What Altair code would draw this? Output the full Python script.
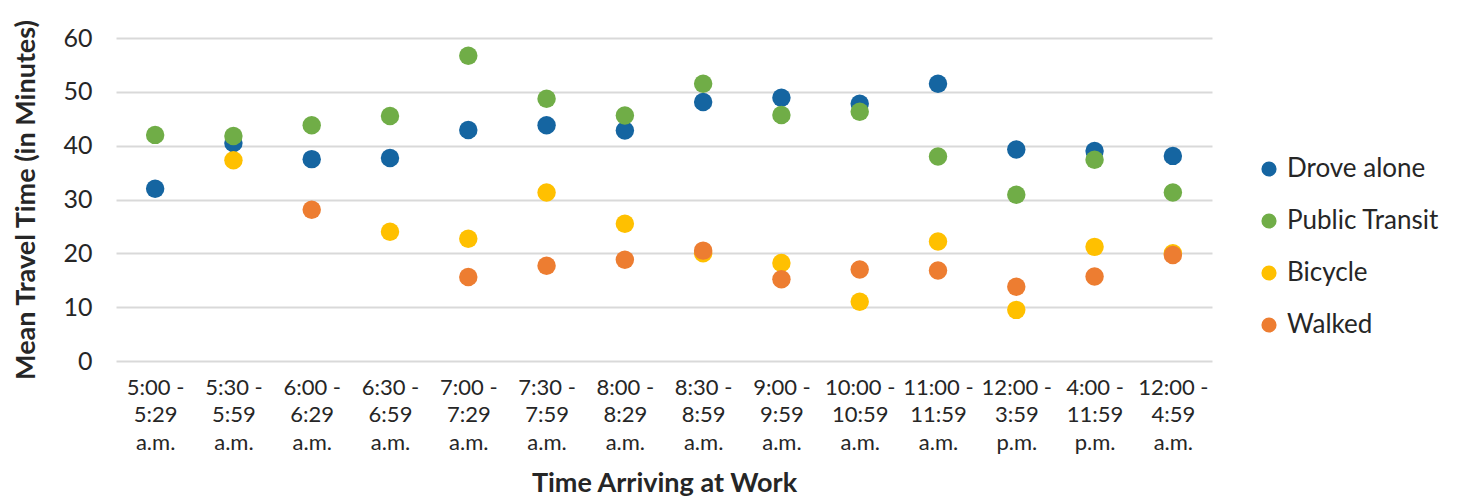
import altair as alt
import pandas as pd

categories = [
    "5:00 -\n5:29\na.m.", "5:30 -\n5:59\na.m.", "6:00 -\n6:29\na.m.", "6:30 -\n6:59\na.m.",
    "7:00 -\n7:29\na.m.", "7:30 -\n7:59\na.m.", "8:00 -\n8:29\na.m.", "8:30 -\n8:59\na.m.",
    "9:00 -\n9:59\na.m.", "10:00 -\n10:59\na.m.", "11:00 -\n11:59\na.m.", "12:00 -\n3:59\np.m.",
    "4:00 -\n11:59\np.m.", "12:00 -\n4:59\na.m.",
]
series = ["Drove alone", "Public Transit", "Bicycle", "Walked"]
colors = ["#1565A1", "#70AD47", "#FFC000", "#ED7D31"]

drove_alone = [32.0, 40.5, 37.5, 37.7, 42.9, 43.8, 42.8, 48.1, 48.9, 47.8, 51.5, 39.3, 39.0, 38.1]
public_transit = [42.0, 41.8, 43.8, 45.5, 56.7, 48.7, 45.6, 51.5, 45.7, 46.3, 38.0, 30.9, 37.4, 31.3]
bicycle = [None, 37.3, None, 24.0, 22.7, 31.3, 25.5, 20.0, 18.2, 11.0, 22.2, 9.5, 21.2, 20.0]
walked = [None, None, 28.1, None, 15.6, 17.7, 18.8, 20.5, 15.2, 17.0, 16.8, 13.8, 15.7, 19.7]

rows = []
for s_i, (name, vals) in enumerate(zip(series, [drove_alone, public_transit, bicycle, walked])):
    for c, v in zip(categories, vals):
        if v is not None:
            rows.append({"time": c, "mode": name, "value": v, "ord": s_i})
df = pd.DataFrame(rows)

FONT = "Lato"
TXT = "#262626"

chart = alt.Chart(df).mark_circle(size=340, opacity=1).encode(
    x=alt.X("time:N", sort=categories, title="Time Arriving at Work",
            scale=alt.Scale(paddingInner=0, paddingOuter=0),
            axis=alt.Axis(labelExpr="split(datum.label, '\\n')", labelAngle=0,
                          labelFontSize=22, labelColor=TXT, labelFont=FONT,
                          labelLineHeight=27.5, labelPadding=16, labelBaseline="top",
                          domain=False, ticks=False, grid=False,
                          titleFontSize=27, titleFont=FONT, titleFontWeight="bold",
                          titleColor=TXT, titlePadding=17)),
    y=alt.Y("value:Q", title="Mean Travel Time (in Minutes)",
            scale=alt.Scale(domain=[0, 60], nice=False),
            axis=alt.Axis(values=[0, 10, 20, 30, 40, 50, 60], domain=False, ticks=False,
                          gridColor="#D9D9D9", gridWidth=2,
                          labelFontSize=25, labelColor=TXT, labelFont=FONT, labelPadding=24,
                          titleFontSize=27, titleFont=FONT, titleFontWeight="bold",
                          titleColor=TXT, titlePadding=22)),
    color=alt.Color("mode:N", scale=alt.Scale(domain=series, range=colors),
                    legend=alt.Legend(title=None, orient="none", legendX=1140, legendY=118,
                                      symbolType="circle", symbolSize=230, symbolStrokeWidth=0,
                                      labelFontSize=26, labelFont=FONT, labelColor=TXT,
                                      labelOffset=5, rowPadding=26)),
    order=alt.Order("ord:Q"),
).properties(
    width=1096, height=323,
    autosize=alt.AutoSizeParams(type="none"),
    padding={"left": 108, "top": 30, "right": 242, "bottom": 141},
).configure_view(stroke=None)

chart.save("out.html", embed_options={"renderer": "svg", "actions": False})
